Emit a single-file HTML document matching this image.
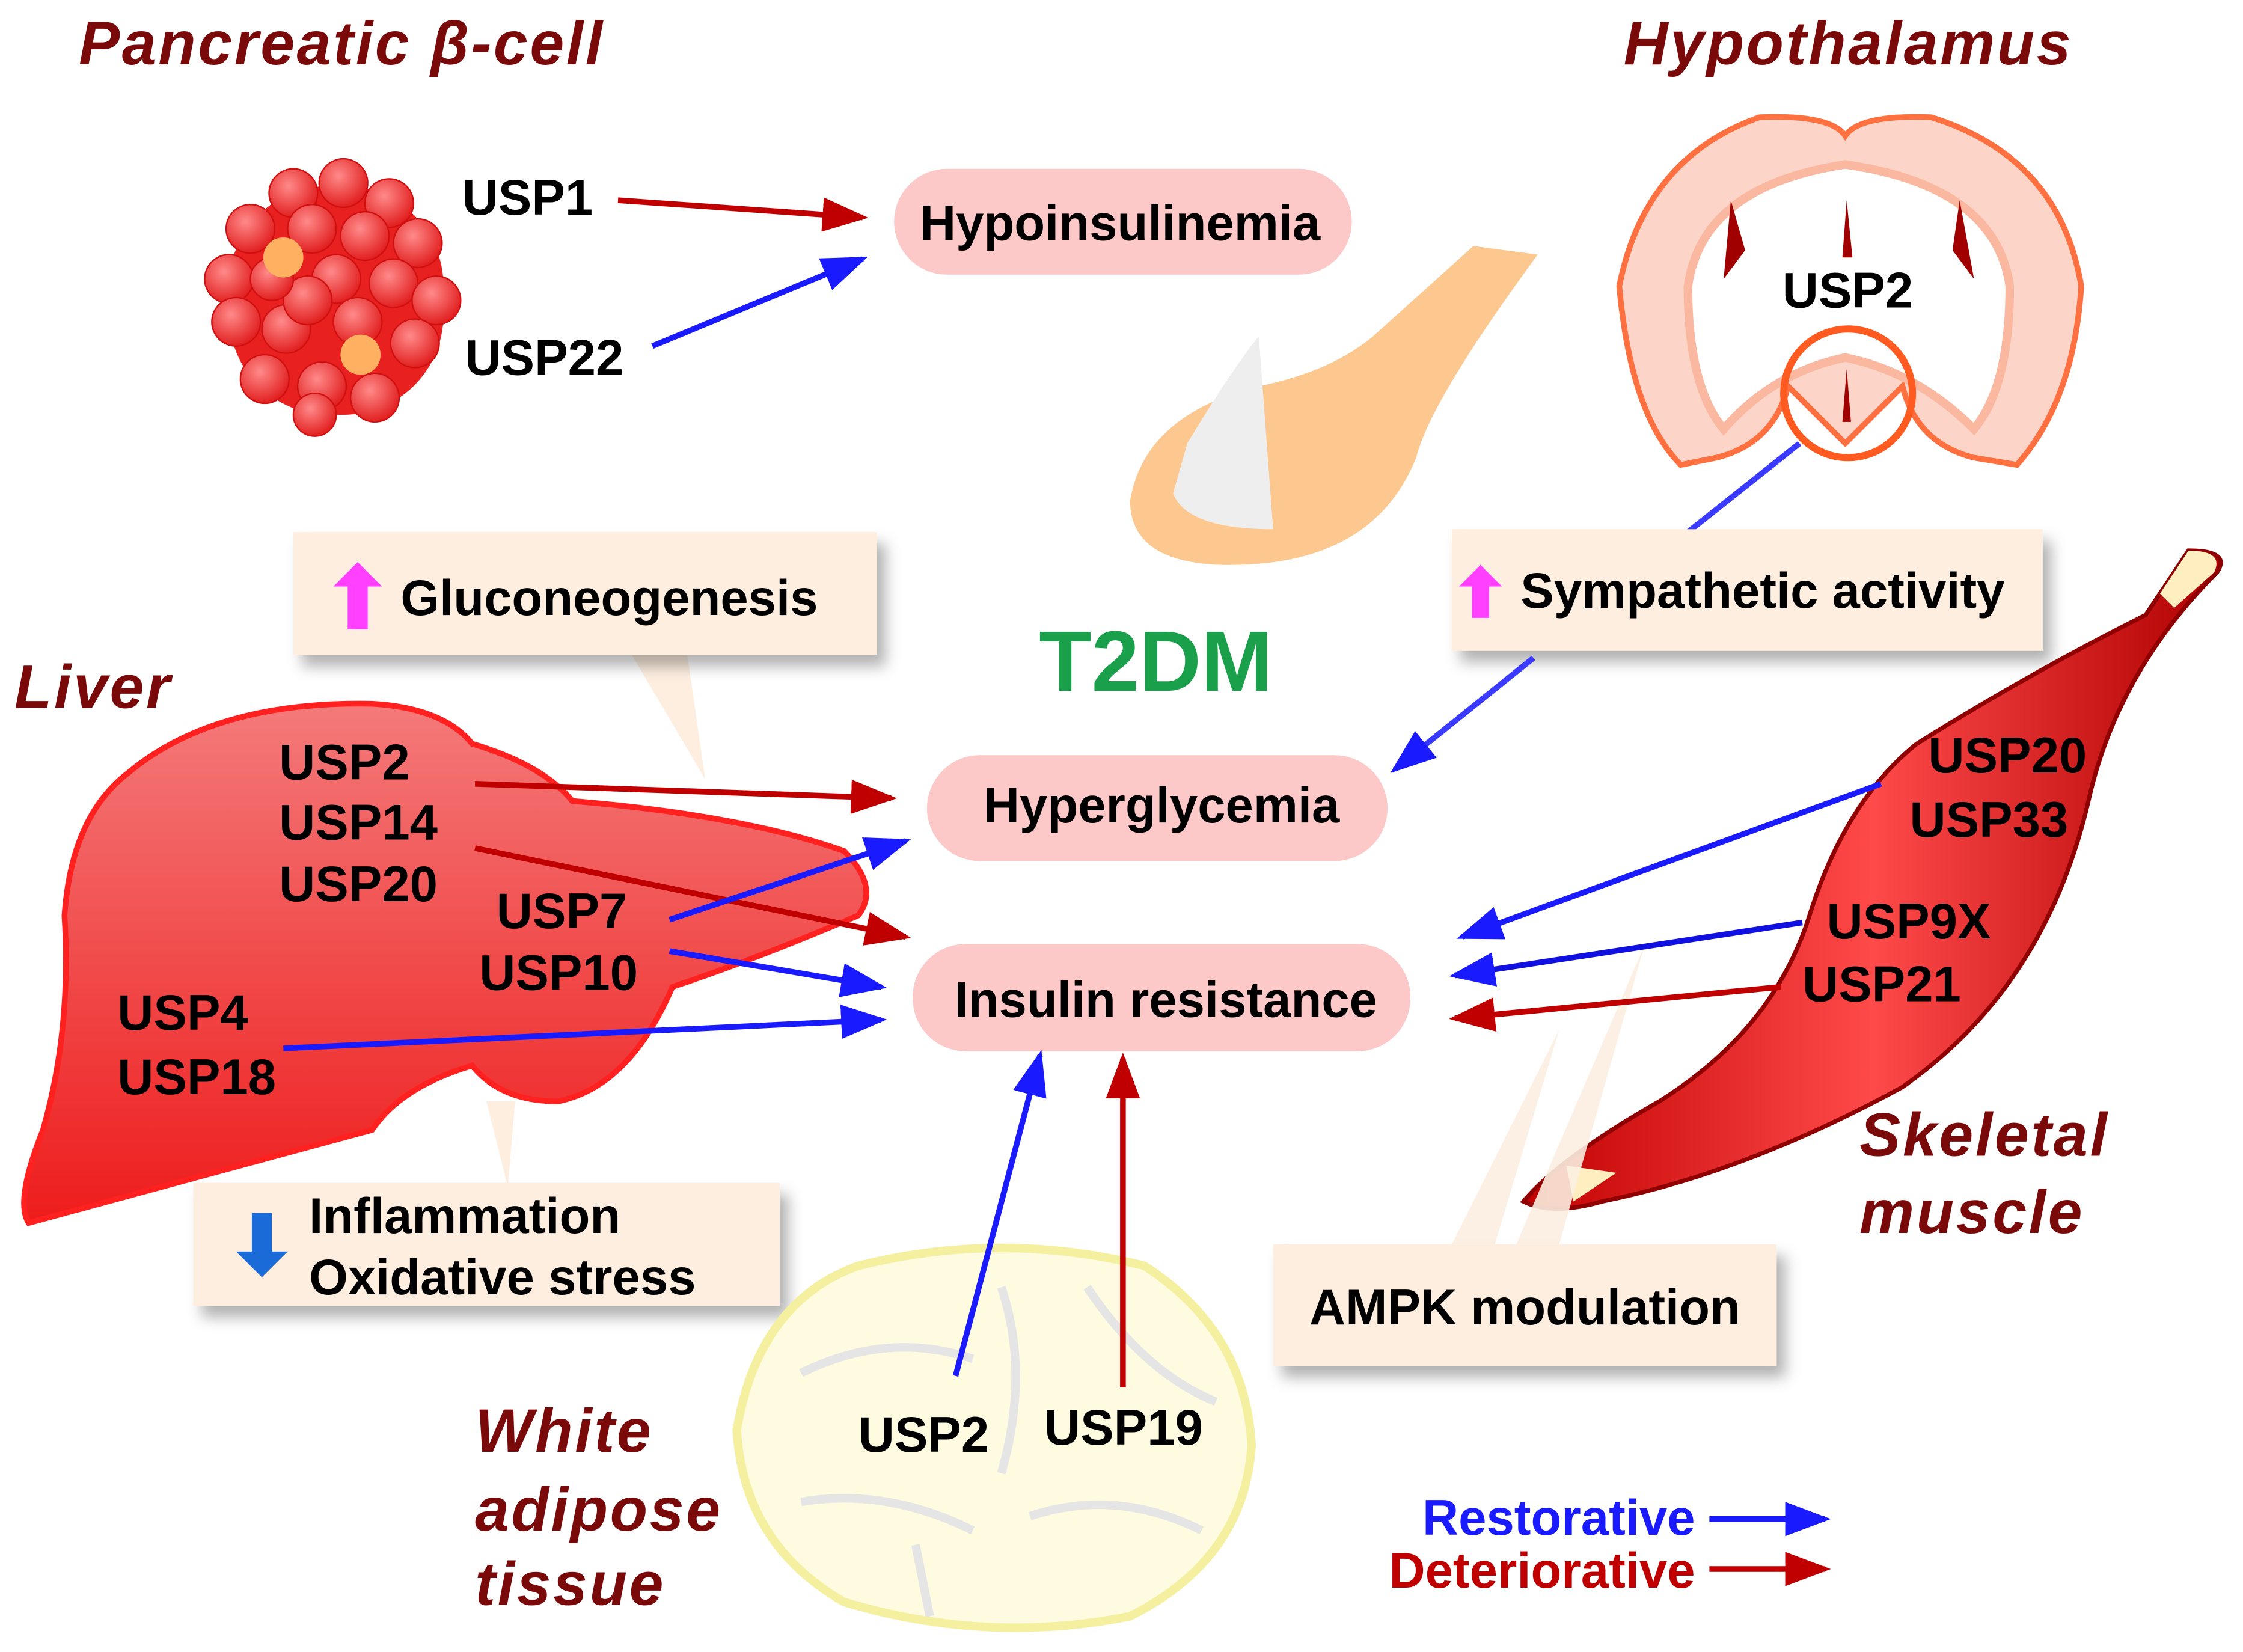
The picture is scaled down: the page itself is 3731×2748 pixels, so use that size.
<!DOCTYPE html>
<html><head><meta charset="utf-8"><style>
html,body{margin:0;padding:0;background:#fff}
svg{display:block}
text{font-family:"Liberation Sans",sans-serif;font-weight:bold}
.b{font-size:35px;fill:#000}
.t{font-size:43px;fill:#7a0a0a;font-style:italic;letter-spacing:1.5px}
</style></head><body>
<svg width="3731" height="2748" viewBox="0 0 1568 1155" xmlns="http://www.w3.org/2000/svg">
<defs>
<marker id="ar" markerWidth="8" markerHeight="6" refX="7" refY="3" orient="auto" markerUnits="strokeWidth"><path d="M0,0L8,3L0,6z" fill="#c00000"/></marker>
<marker id="ab" markerWidth="8" markerHeight="6" refX="7" refY="3" orient="auto" markerUnits="strokeWidth"><path d="M0,0L8,3L0,6z" fill="#1a1aff"/></marker>
<linearGradient id="lv" x1="0" y1="0" x2="0" y2="1"><stop offset="0" stop-color="#f47a7a"/><stop offset="1" stop-color="#ee1c1c"/></linearGradient>
<linearGradient id="ms" x1="0" y1="0" x2="1" y2="0"><stop offset="0" stop-color="#c00000"/><stop offset="0.5" stop-color="#ff4a4a"/><stop offset="1" stop-color="#b00000"/></linearGradient>
<filter id="sh" x="-10%" y="-10%" width="130%" height="140%"><feDropShadow dx="6" dy="8" stdDeviation="5" flood-color="#000" flood-opacity="0.3"/></filter>
<radialGradient id="cell" cx="0.4" cy="0.35" r="0.7"><stop offset="0" stop-color="#ff8a8a"/><stop offset="1" stop-color="#e01818"/></radialGradient>
</defs>

<text class="t" x="55" y="45">Pancreatic β-cell</text>
<text class="t" x="1135" y="45">Hypothalamus</text>
<text class="t" x="10" y="495">Liver</text>
<text class="t" x="1300" y="808">Skeletal</text>
<text class="t" x="1300" y="862">muscle</text>
<text class="t" x="332" y="1015">White</text>
<text class="t" x="332" y="1070">adipose</text>
<text class="t" x="332" y="1122">tissue</text>

<!-- beta cell cluster -->
<rect x="160" y="130" width="150" height="160" rx="70" fill="#e82020"/>
<g fill="url(#cell)" stroke="#d01010" stroke-width="1">
<circle cx="205" cy="135" r="17"/><circle cx="240" cy="128" r="17"/><circle cx="272" cy="142" r="17"/>
<circle cx="175" cy="160" r="17"/><circle cx="218" cy="160" r="17"/><circle cx="255" cy="165" r="17"/><circle cx="292" cy="170" r="17"/>
<circle cx="160" cy="195" r="17"/><circle cx="235" cy="195" r="17"/><circle cx="275" cy="198" r="17"/><circle cx="305" cy="210" r="17"/>
<circle cx="165" cy="225" r="17"/><circle cx="200" cy="230" r="17"/><circle cx="215" cy="210" r="17"/><circle cx="290" cy="240" r="17"/>
<circle cx="185" cy="265" r="17"/><circle cx="225" cy="270" r="17"/><circle cx="262" cy="278" r="17"/><circle cx="220" cy="290" r="15"/>
<circle cx="250" cy="225" r="17"/><circle cx="190" cy="195" r="15"/>
</g>
<circle cx="198" cy="180" r="14" fill="#ffb060"/>
<circle cx="252" cy="248" r="14" fill="#ffb060"/>
<text class="b" x="323" y="150">USP1</text>
<text class="b" x="325" y="262">USP22</text>
<line x1="432" y1="140" x2="603" y2="152" stroke="#c00000" stroke-width="4" marker-end="url(#ar)"/>
<line x1="456" y1="242" x2="603" y2="181" stroke="#1a1aff" stroke-width="4" marker-end="url(#ab)"/>

<rect x="625" y="118" width="320" height="74" rx="37" fill="#fcc8c8"/>
<text class="b" x="783" y="168" text-anchor="middle">Hypoinsulinemia</text>

<!-- spoon -->
<path d="M1030,172 L1075,178 Q1000,280 990,320 Q960,395 860,395 Q790,395 790,350 Q800,290 880,270 Q930,260 960,235 Z" fill="#fcc890"/>
<path d="M830,310 Q860,260 880,235 L890,370 Q830,370 820,345 Z" fill="#eeeeee"/>

<!-- brain -->
<path d="M1290,95 Q1280,80 1230,82 Q1150,110 1132,200 Q1140,290 1175,325 L1200,320 Q1240,310 1250,270 L1290,310 L1330,270 Q1340,310 1380,320 L1410,325 Q1450,280 1455,200 Q1440,110 1350,82 Q1300,80 1290,95 Z" fill="#fdd5c8" stroke="#ff7040" stroke-width="4"/>
<path d="M1180,200 Q1190,130 1290,115 Q1395,130 1405,200 Q1405,270 1380,300 Q1340,260 1290,250 Q1240,260 1205,300 Q1180,270 1180,200 Z" fill="#fff" stroke="#fbb8a0" stroke-width="6"/>
<path d="M1210,140 L1220,175 L1205,195 Z M1370,140 L1365,175 L1380,195 Z M1291,140 L1295,180 L1288,180 Z M1291,258 L1294,295 L1288,295 Z" fill="#a00000"/>
<text class="b" x="1246" y="215">USP2</text>
<ellipse cx="1292" cy="275" rx="45" ry="45" fill="none" stroke="#ff5a20" stroke-width="5"/>
<line x1="1258" y1="310" x2="1180" y2="372" stroke="#3a3aff" stroke-width="4"/>

<!-- sympathetic box -->
<rect x="1015" y="370" width="413" height="85" fill="#fdeee0" filter="url(#sh)"/>
<path d="M1035,395 L1020,410 L1029,410 L1029,432 L1041,432 L1041,410 L1050,410 Z" fill="#ff40ff"/>
<text class="b" x="1063" y="425">Sympathetic activity</text>
<line x1="1072" y1="460" x2="975" y2="538" stroke="#3a3aff" stroke-width="4" marker-end="url(#ab)"/>

<text x="808" y="483" text-anchor="middle" style="font-size:60px;fill:#1aa04a">T2DM</text>

<!-- gluconeogenesis box -->
<path d="M440,455 L493,545 L480,455 Z" fill="#fdeee0"/>
<rect x="205" y="372" width="408" height="86" fill="#fdeee0" filter="url(#sh)"/>
<path d="M250,393 L233,410 L243,410 L243,440 L257,440 L257,410 L267,410 Z" fill="#ff40ff"/>
<text class="b" x="280" y="430">Gluconeogenesis</text>

<!-- liver -->
<path d="M90,540 Q150,490 260,492 Q310,495 330,520 Q380,535 400,560 Q520,570 590,595 Q615,620 600,640 Q530,670 470,690 Q440,760 390,770 Q350,770 330,745 Q280,760 260,790 Q150,820 20,855 Q10,840 30,790 Q50,720 45,640 Q50,570 90,540 Z" fill="url(#lv)" stroke="#ff2020" stroke-width="4"/>
<path d="M340,770 L355,830 L360,770 Z" fill="#fdeee0"/>
<text class="b" x="195" y="545">USP2</text>
<text class="b" x="195" y="587">USP14</text>
<text class="b" x="195" y="630">USP20</text>
<text class="b" x="347" y="649">USP7</text>
<text class="b" x="335" y="692">USP10</text>
<text class="b" x="82" y="720">USP4</text>
<text class="b" x="82" y="765">USP18</text>

<rect x="648" y="528" width="322" height="74" rx="37" fill="#fcc8c8"/>
<text class="b" x="812" y="575" text-anchor="middle">Hyperglycemia</text>
<rect x="638" y="660" width="348" height="75" rx="37" fill="#fcc8c8"/>
<text class="b" x="815" y="711" text-anchor="middle">Insulin resistance</text>

<line x1="332" y1="548" x2="623" y2="558" stroke="#c00000" stroke-width="4" marker-end="url(#ar)"/>
<line x1="332" y1="593" x2="633" y2="655" stroke="#c00000" stroke-width="4" marker-end="url(#ar)"/>
<line x1="468" y1="643" x2="633" y2="588" stroke="#1a1aff" stroke-width="4" marker-end="url(#ab)"/>
<line x1="468" y1="665" x2="616" y2="690" stroke="#1a1aff" stroke-width="4" marker-end="url(#ab)"/>
<line x1="198" y1="733" x2="616" y2="713" stroke="#1a1aff" stroke-width="4" marker-end="url(#ab)"/>

<!-- inflammation -->
<rect x="135" y="827" width="410" height="86" fill="#fdeee0" filter="url(#sh)"/>
<path d="M183,893 L165,875 L176,875 L176,848 L190,848 L190,875 L201,875 Z" fill="#1a6ad8"/>
<text class="b" x="216" y="862">Inflammation</text>
<text class="b" x="216" y="905">Oxidative stress</text>

<!-- WAT -->
<path d="M600,885 Q700,860 800,885 Q870,930 875,1010 Q870,1090 790,1130 Q690,1150 590,1120 Q520,1080 515,1000 Q530,910 600,885 Z" fill="#fffbe0" stroke="#f5f0a0" stroke-width="6"/>
<g fill="none" stroke="#e5e5e5" stroke-width="6">
<path d="M560,960 Q620,930 680,950 M700,900 Q720,960 700,1030 M760,900 Q800,960 850,980 M560,1050 Q620,1040 680,1070 M720,1060 Q780,1040 840,1070 M640,1080 L650,1130"/>
</g>
<text class="b" x="600" y="1015">USP2</text>
<text class="b" x="730" y="1010">USP19</text>
<line x1="668" y1="962" x2="727" y2="738" stroke="#1a1aff" stroke-width="4" marker-end="url(#ab)"/>
<line x1="785" y1="970" x2="785" y2="740" stroke="#c00000" stroke-width="4" marker-end="url(#ar)"/>

<!-- muscle -->
<path d="M1530,385 Q1560,385 1550,400 Q1480,470 1460,560 Q1430,690 1330,760 Q1220,820 1120,840 Q1085,850 1065,840 Q1090,810 1160,770 Q1240,720 1265,640 Q1290,560 1340,520 Q1420,470 1500,430 Z" fill="url(#ms)" stroke="#900000" stroke-width="3"/>
<path d="M1530,385 Q1555,385 1548,400 L1520,425 L1510,415 Z" fill="#ffeec0"/>
<path d="M1095,815 L1130,820 L1100,840 Z" fill="#ffeec0"/>
<path d="M1015,870 L1090,720 L1045,870 Z M1060,870 L1150,660 L1090,870 Z" fill="#fbeee0" opacity="0.9"/>
<text class="b" x="1348" y="540">USP20</text>
<text class="b" x="1335" y="585">USP33</text>
<text class="b" x="1277" y="656">USP9X</text>
<text class="b" x="1260" y="700">USP21</text>
<line x1="1315" y1="548" x2="1022" y2="655" stroke="#1a1aff" stroke-width="4" marker-end="url(#ab)"/>
<line x1="1260" y1="645" x2="1017" y2="682" stroke="#1010e0" stroke-width="4" marker-end="url(#ab)"/>
<line x1="1245" y1="690" x2="1017" y2="712" stroke="#c00000" stroke-width="4" marker-end="url(#ar)"/>

<rect x="890" y="870" width="352" height="85" fill="#fdeee0" filter="url(#sh)"/>
<text class="b" x="1066" y="926" text-anchor="middle">AMPK modulation</text>

<!-- legend -->
<text x="1185" y="1073" text-anchor="end" style="font-size:35px;fill:#1a1aff">Restorative</text>
<text x="1185" y="1110" text-anchor="end" style="font-size:35px;fill:#c00000">Deteriorative</text>
<line x1="1195" y1="1062" x2="1276" y2="1062" stroke="#1a1aff" stroke-width="4" marker-end="url(#ab)"/>
<line x1="1195" y1="1097" x2="1276" y2="1097" stroke="#c00000" stroke-width="4" marker-end="url(#ar)"/>
</svg>
</body></html>
